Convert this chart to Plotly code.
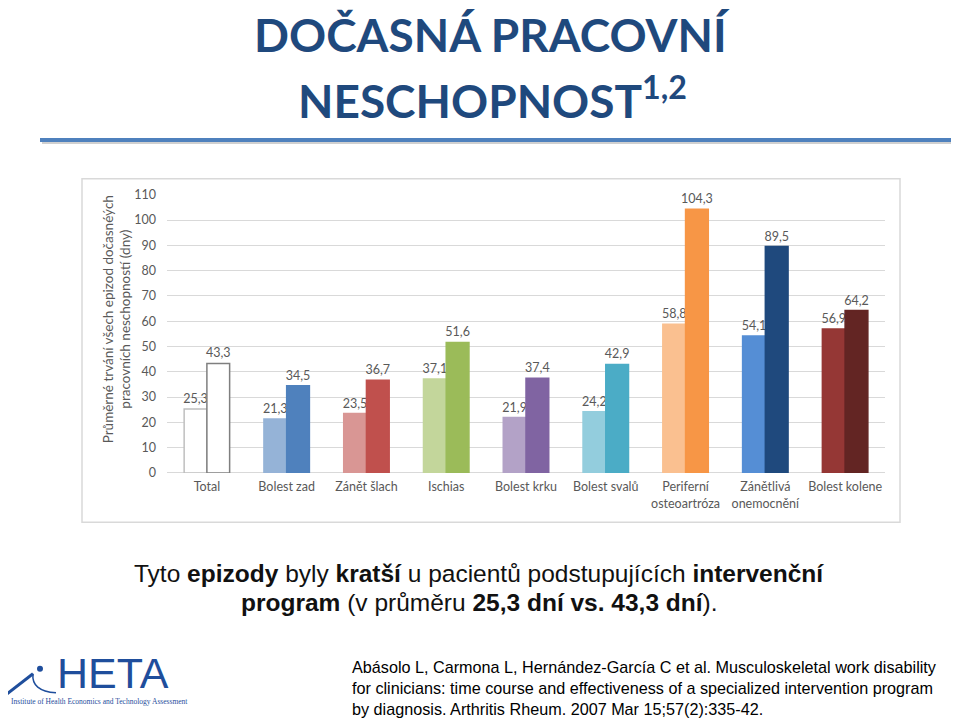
import plotly.graph_objects as go

W, H = 959, 719

categories = ["Total", "Bolest zad", "Zánět šlach", "Ischias", "Bolest krku",
              "Bolest svalů", "Periferní<br>osteoartróza", "Zánětlivá<br>onemocnění",
              "Bolest kolene"]
intervention = [25.3, 21.3, 23.5, 37.1, 21.9, 24.2, 58.8, 54.1, 56.9]
control = [43.3, 34.5, 36.7, 51.6, 37.4, 42.9, 104.3, 89.5, 64.2]
y_ticks = [0, 10, 20, 30, 40, 50, 60, 70, 80, 90, 100, 110]

light_colors = ["#ffffff", "#95b3d7", "#d99694", "#c3d69b", "#b3a2c7",
                "#93cddd", "#fac090", "#558ed5", "#953735"]
dark_colors = ["#ffffff", "#4f81bd", "#c0504d", "#9bbb59", "#8064a2",
               "#4bacc6", "#f79646", "#1f497d", "#632523"]
light_lines = ["#bfbfbf"] + light_colors[1:]
dark_lines = ["#7f7f7f"] + dark_colors[1:]


# page pixel -> paper coords (compensates the offset seen in the rendered page)
def px(x, y):
    return (x - 8) / W, 1 - ((y - 16) / 0.975) / H


fig = go.Figure()
fig.add_trace(go.Bar(
    x=categories, y=intervention, name="intervenční program",
    marker=dict(color=light_colors, line=dict(color=light_lines, width=1.5)),
    texttemplate="%{y:.1f}", textposition="outside", cliponaxis=False,
    constraintext="none",
    textfont=dict(color="#595959", size=12.5, family="Lato")))
fig.add_trace(go.Bar(
    x=categories, y=control, name="kontrola",
    marker=dict(color=dark_colors, line=dict(color=dark_lines, width=1.5)),
    texttemplate="%{y:.1f}", textposition="outside", cliponaxis=False,
    constraintext="none",
    textfont=dict(color="#595959", size=12.5, family="Lato")))

x0, y_top = px(167, 194)
x1, y_bot = px(885, 471)

fig.update_layout(
    width=W, height=H,
    margin=dict(l=0, r=0, t=0, b=0),
    paper_bgcolor="white", plot_bgcolor="white",
    separators=", ",
    showlegend=False,
    barmode="group", bargap=0.43, bargroupgap=0,
    font=dict(family="Lato", color="#595959", size=12),
    xaxis=dict(domain=[x0, x1], showgrid=False, showline=False, ticks="",
               tickfont=dict(size=12.5, color="#595959"), ticklabelstandoff=5),
    yaxis=dict(domain=[y_bot, y_top], range=[0, 110], tickvals=y_ticks,
               showgrid=True, gridcolor="#d9d9d9", gridwidth=1,
               zeroline=True, zerolinecolor="#d9d9d9", zerolinewidth=1,
               showline=False, ticks="", ticklabelstandoff=10,
               tickfont=dict(size=12.5, color="#595959")),
)

shapes = []
# chart frame
bx0, by0 = px(82, 178)
bx1, by1 = px(900, 520)
shapes.append(dict(type="rect", xref="paper", yref="paper", x0=bx0, x1=bx1,
                   y0=by1, y1=by0, line=dict(color="#d9d9d9", width=1.5)))
# title rule with shadow
sx0, sy = px(42, 142)
shapes.append(dict(type="line", xref="paper", yref="paper", x0=sx0, x1=1.02,
                   y0=sy, y1=sy, line=dict(color="#d0d0d0", width=3)))
lx0, ly = px(40, 139.5)
shapes.append(dict(type="line", xref="paper", yref="paper", x0=lx0, x1=1.02,
                   y0=ly, y1=ly, line=dict(color="#4f81bd", width=4)))
# logo "i" stroke
a = px(7, 691)
b = px(33, 671)
shapes.append(dict(type="line", xref="paper", yref="paper", x0=a[0], y0=a[1],
                   x1=b[0], y1=b[1], line=dict(color="#1f4e9c", width=3)))
c = px(31, 688)
d = px(56, 690)
shapes.append(dict(type="path", xref="paper", yref="paper",
                   path="M {} {} Q {} {} {} {}".format(b[0], b[1], c[0], c[1], d[0], d[1]),
                   line=dict(color="#1f4e9c", width=1.5)))
cx0, cy0 = px(37, 663)
cx1, cy1 = px(43, 669)
shapes.append(dict(type="circle", xref="paper", yref="paper", x0=cx0, x1=cx1,
                   y0=cy1, y1=cy0, fillcolor="#1f4e9c", line=dict(width=0)))
fig.update_layout(shapes=shapes)


def note(x, y, text, size, color="black", family="Liberation Sans",
         xanchor="center", angle=0, align="center"):
    ax, ay = px(x, y)
    fig.add_annotation(x=ax, y=ay, xref="paper", yref="paper", text=text,
                       showarrow=False, xanchor=xanchor, yanchor="middle",
                       textangle=angle, align=align,
                       font=dict(size=size, color=color, family=family))


title_blue = "#1f497d"
note(492, 34, "<b>DOČASNÁ PRACOVNÍ</b>", 46, title_blue, "Lato")
note(492, 97, "<b>NESCHOPNOST<sup>1,2</sup></b>", 46, title_blue, "Lato")

note(117, 318, "Průměrné trvání všech epizod dočasnéých<br>pracovních neschopností (dny)",
     13.5, "#595959", "Lato", angle=-90)

note(479, 571, "Tyto <b>epizody</b> byly <b>kratší</b> u pacientů podstupujících <b>intervenční</b>",
     24.5, "#111111", "Liberation Sans")
note(479, 600, "<b>program</b> (v průměru <b>25,3 dní vs. 43,3 dní</b>).",
     24.5, "#111111", "Liberation Sans")

note(350, 685,
     "Abásolo L, Carmona L, Hernández-García C et al. Musculoskeletal work disability<br>"
     "for clinicians: time course and effectiveness of a specialized intervention program<br>"
     "by diagnosis. Arthritis Rheum. 2007 Mar 15;57(2):335-42.",
     16.2, "black", "Liberation Sans", xanchor="left", align="left")

note(55, 670, "HETA", 43, "#1f4e9c", "Liberation Sans", xanchor="left")
note(9, 699, "Institute of Health Economics and Technology Assessment", 7.5,
     "#1f4e9c", "Liberation Serif", xanchor="left")

fig.write_html("out.html")
